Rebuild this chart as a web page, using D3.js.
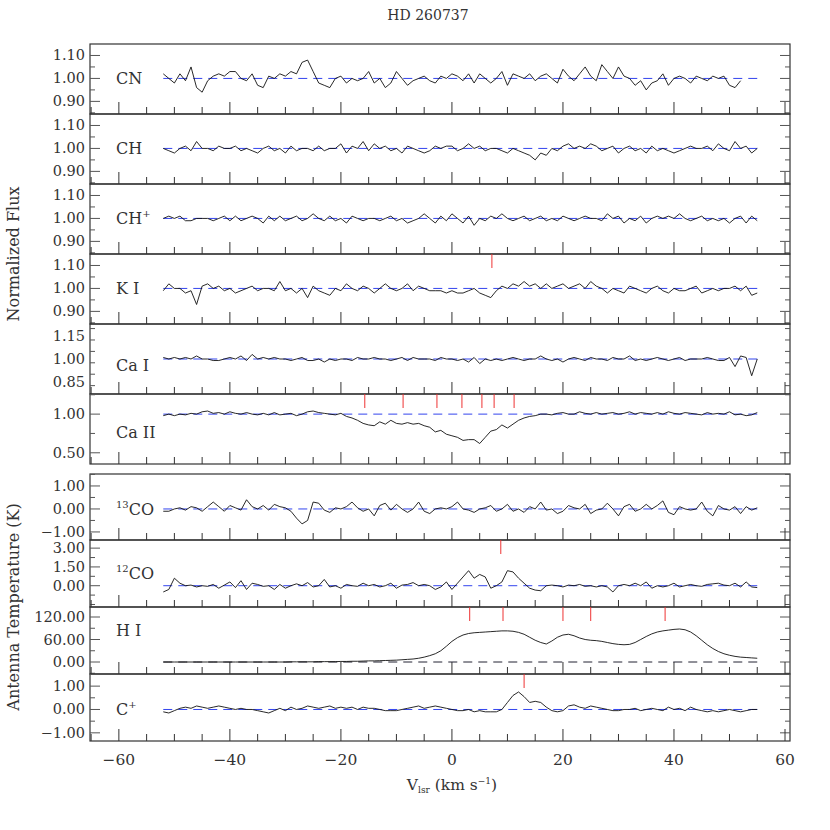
<!DOCTYPE html>
<html>
<head>
<meta charset="utf-8">
<script src="https://cdn.jsdelivr.net/npm/d3@7"></script>
<style>
body { margin: 0; background: #fff; }
text { font-family: "DejaVu Serif", "Liberation Serif", serif; fill: #333; }
</style>
</head>
<body>
<script>

// velocity grid: every series starts at -52 km/s, step 1 km/s
var vStart = -52, vStep = 1;

var cn = [1.02,1.00,0.98,1.02,0.99,1.05,0.96,0.94,0.99,1.01,
  1.02,1.01,1.03,1.03,1.00,0.99,1.02,0.97,0.96,1.01,
  1.00,1.02,1.01,1.03,1.02,1.07,1.08,1.03,0.98,0.97,
  0.96,1.00,1.01,0.98,1.00,0.99,1.00,1.03,0.98,1.00,
  0.96,0.98,1.03,1.00,0.97,0.99,1.00,1.01,0.99,0.98,
  1.01,1.00,1.02,1.01,0.99,1.02,0.98,1.02,1.00,0.98,
  1.00,1.03,0.97,1.02,1.01,1.00,1.02,0.99,1.01,1.02,
  1.00,0.98,1.04,1.01,0.99,1.02,1.05,1.01,0.99,1.06,
  1.03,1.00,1.05,1.01,1.00,0.97,0.99,0.95,0.98,0.99,
  1.02,0.97,1.00,1.01,1.00,0.98,1.01,1.00,0.99,1.01,
  1.00,1.01,0.97,0.96,0.99];
var ch = [1.00,0.99,0.98,1.00,1.01,0.99,1.03,1.00,1.00,0.99,
  1.01,1.00,1.00,1.01,0.99,1.00,0.99,0.98,1.00,1.01,
  0.99,1.00,0.98,1.01,0.99,1.00,1.00,0.99,1.01,0.99,
  1.00,1.00,1.02,0.98,1.01,1.00,1.03,0.99,1.02,1.00,
  1.01,0.99,1.00,0.98,1.01,1.00,0.99,0.98,0.99,1.01,
  1.00,1.01,1.01,0.99,1.00,1.02,1.00,1.01,0.99,1.00,
  1.00,0.99,0.98,1.00,0.99,0.98,0.97,0.95,0.98,0.97,
  1.00,0.99,1.01,1.02,1.00,1.01,1.00,1.02,1.01,0.99,
  1.00,1.01,0.98,1.00,1.01,0.99,1.00,0.98,1.01,0.99,
  1.00,0.99,0.98,0.99,1.00,1.01,1.00,1.00,1.01,0.99,
  1.02,1.00,0.99,1.03,1.00,1.01,0.98,1.00];
var chp = [1.00,1.01,1.00,1.01,0.99,0.99,1.00,1.00,1.00,0.99,
  1.00,1.01,0.99,1.01,0.99,1.00,1.01,1.00,0.98,1.01,
  0.99,1.01,0.99,1.00,1.01,0.99,1.00,1.02,1.00,0.99,
  1.01,0.99,1.00,0.98,1.01,1.00,0.99,1.00,1.00,0.99,
  1.00,1.01,0.99,1.00,0.98,0.99,1.00,1.02,1.00,0.98,
  1.01,0.99,1.02,1.00,0.98,1.01,0.97,1.00,0.99,1.01,
  1.00,1.02,1.00,0.99,1.00,1.01,0.99,1.00,1.01,0.99,
  1.00,0.99,1.01,1.00,0.99,1.00,1.01,1.00,1.00,0.99,
  1.02,1.00,1.01,0.98,1.00,0.99,1.01,0.98,1.00,1.01,
  1.00,1.01,1.00,1.02,1.00,0.99,1.00,1.01,0.99,1.00,
  0.99,1.00,0.98,1.00,1.01,0.98,1.01,0.99];
var ki = [0.99,1.02,1.00,1.00,0.98,0.99,0.93,1.01,1.02,1.00,
  1.01,0.99,1.00,0.98,0.99,1.00,1.01,0.99,1.00,1.00,
  0.99,1.03,0.99,1.00,0.98,1.00,0.96,1.01,0.99,0.98,
  0.97,1.00,0.99,1.02,1.00,0.99,1.01,1.00,0.98,1.00,
  1.02,1.00,0.99,1.00,1.02,0.99,1.01,1.00,0.99,0.99,
  0.99,0.98,0.99,0.98,0.98,0.99,1.00,0.98,0.97,0.96,
  0.99,1.01,1.00,1.02,1.01,1.03,1.01,1.02,1.00,1.02,
  1.00,1.01,1.02,1.00,1.01,1.02,1.00,1.03,1.01,1.00,
  0.98,1.00,0.99,0.98,1.01,1.00,0.99,0.98,1.00,1.01,
  0.99,0.98,1.00,0.99,0.99,1.00,1.01,0.98,0.99,1.00,
  0.99,1.00,1.00,1.01,0.99,1.01,0.97,0.98];
var cai = [1.01,1.00,1.01,1.00,1.01,1.00,1.02,1.00,1.00,0.99,
  0.99,1.00,1.01,1.00,1.02,0.99,1.03,1.00,1.01,1.00,
  1.01,1.00,1.00,0.99,1.00,1.01,0.99,0.99,1.00,0.98,
  1.00,0.99,1.00,1.00,0.99,1.01,1.00,1.00,1.01,1.00,
  1.00,0.99,1.00,1.01,0.99,1.01,1.00,1.00,1.00,0.99,
  1.01,1.00,1.00,0.99,1.00,0.98,1.01,0.97,1.00,0.99,
  1.00,0.99,1.00,1.01,1.00,0.99,1.00,1.00,1.02,1.00,
  0.99,1.00,0.98,1.00,1.01,1.00,0.99,1.01,1.00,1.00,
  0.99,1.01,1.00,1.00,1.02,0.99,1.00,0.99,1.00,1.01,
  1.00,0.99,1.00,1.01,0.99,1.00,1.00,1.00,1.01,1.00,
  0.99,0.99,1.01,0.95,1.02,1.01,0.89,1.00];
var caii = [0.98,1.00,0.98,1.00,0.99,1.01,1.00,1.03,1.04,1.01,
  1.02,1.00,1.03,1.01,1.00,1.02,1.00,0.99,1.01,0.99,
  1.02,0.99,1.00,1.01,0.98,1.00,1.03,1.04,1.02,1.01,
  1.00,0.99,1.01,0.97,0.95,0.92,0.88,0.86,0.85,0.90,
  0.87,0.92,0.88,0.87,0.89,0.87,0.88,0.85,0.83,0.77,
  0.79,0.74,0.72,0.70,0.66,0.67,0.67,0.62,0.70,0.78,
  0.80,0.86,0.82,0.87,0.92,0.95,0.97,0.98,1.00,1.00,
  0.99,1.01,1.02,1.00,1.00,1.03,1.01,1.00,1.02,1.00,
  1.01,1.02,1.00,1.01,1.03,1.00,1.02,1.01,1.00,1.02,
  1.00,1.03,1.01,1.00,1.02,1.01,1.00,0.99,1.02,1.00,
  1.01,1.00,1.03,0.99,1.00,0.98,0.99,1.02];
var co13 = [-0.1,-0.1,0.0,0.05,-0.05,0.1,0.05,-0.1,0.1,0.3,
  0.1,-0.1,0.15,0.05,-0.05,0.4,0.1,0.0,0.15,-0.05,
  0.2,0.1,0.05,-0.1,-0.4,-0.65,-0.5,0.3,0.25,-0.05,
  -0.15,0.05,0.0,0.1,0.3,0.05,-0.1,0.0,-0.3,0.15,
  0.25,-0.05,0.2,0.0,-0.15,0.0,0.3,-0.1,-0.2,0.0,
  0.05,0.0,0.1,0.3,0.0,-0.05,-0.15,0.0,0.05,0.15,
  -0.1,0.0,0.2,-0.1,0.0,-0.15,0.1,0.0,0.3,-0.05,
  0.0,-0.2,-0.1,0.15,0.05,0.0,0.2,-0.2,-0.05,0.0,
  0.25,0.0,-0.3,0.1,0.2,-0.1,0.0,0.2,0.0,0.15,
  0.35,-0.15,-0.25,0.1,0.0,-0.05,0.0,0.3,-0.1,-0.3,
  0.15,0.0,-0.05,0.1,-0.2,0.1,-0.05,0.05];
var co12 = [-0.5,-0.3,0.6,0.2,0.0,0.05,-0.1,0.0,-0.05,0.1,
  -0.2,0.05,0.3,-0.15,0.4,-0.3,0.2,0.1,-0.05,0.0,
  -0.3,0.1,-0.2,0.0,0.15,0.0,0.25,-0.1,0.0,0.5,
  -0.1,0.0,-0.2,0.1,0.0,-0.05,0.2,0.0,0.1,-0.1,
  0.0,0.2,-0.2,0.05,0.1,0.25,0.0,0.1,0.0,-0.3,
  -0.1,0.3,-0.3,0.2,0.7,1.2,0.6,0.9,0.7,-0.2,
  0.0,0.3,1.2,1.1,0.6,0.2,-0.2,-0.35,-0.4,0.0,
  0.05,0.0,-0.1,0.05,0.0,0.1,-0.05,0.0,-0.1,0.0,
  -0.1,-0.5,0.0,0.1,0.0,0.2,0.0,0.3,-0.2,0.0,
  -0.1,0.0,0.2,-0.1,0.0,0.1,0.0,-0.05,0.1,0.15,
  0.2,0.05,0.0,0.2,-0.1,0.3,-0.1,-0.15];
var hi = [0,0,0,0,0,0,0,0,0,0,
  0,0,0,0,0,0,0,0,0,0,
  0,0,0,0.5,0.5,0.5,0.5,0.5,1,1,
  1,1,1.5,1.5,2,2,2.5,3,3,3.5,
  4,4.5,5,6,7,8,10,13,17,22,
  30,42,55,65,72,76,78,79,80,81,
  82,83,83,82,79,74,66,58,52,48,
  56,66,72,74,70,64,60,58,57,55,
  52,49,47,46,47,52,60,68,75,80,
  83,85,87,88,86,80,70,58,46,36,
  28,22,18,15,13,12,11,10];
var cplus = [-0.1,-0.15,-0.05,0.05,0.1,0.05,0.15,0.1,0.05,0.1,
  0.15,0.1,0.05,0.0,0.05,0.0,0.0,-0.05,-0.1,-0.15,
  -0.05,0.05,-0.05,0.1,0.0,0.05,0.15,0.1,0.05,0.1,
  0.15,0.05,0.1,0.05,0.1,0.0,0.1,0.05,0.05,0.0,
  -0.05,-0.05,-0.05,0.0,0.05,0.1,0.15,0.05,0.1,0.15,
  0.1,0.05,0.0,-0.05,-0.05,0.0,-0.1,-0.05,-0.1,-0.1,
  -0.1,0.0,0.3,0.6,0.75,0.55,0.3,0.35,0.3,0.1,
  -0.05,-0.1,-0.05,0.15,0.2,0.1,0.05,0.15,0.1,0.05,
  0.0,-0.05,-0.05,0.0,0.0,0.05,-0.05,0.0,0.05,0.0,
  -0.05,0.1,0.0,0.05,-0.05,0.1,0.0,-0.05,-0.1,-0.05,
  -0.1,-0.05,0.0,-0.05,-0.1,-0.05,0.0,0.0];

// component velocity markers (red)
var kiMarks = [7.2];
var caiiMarks = [-15.7, -8.8, -2.7, 1.8, 5.4, 7.6, 11.2];
var co12Marks = [8.8];
var hiMarks = [3.2, 9.2, 20.0, 25.0, 38.4];
var cplusMarks = [13.0];

var xTicks = [-60, -40, -20, 0, 20, 40, 60];

// panels: name, superscript, data, y domain, labelled ticks, minor tick step, baseline, label level, markers
var panels = [
  {name:"CN", sup:"", post:"", data:cn, dom:[0.845,1.15], ticks:[0.9,1.0,1.1], minor:0.05, base:1, lab:1, marks:[]},
  {name:"CH", sup:"", post:"", data:ch, dom:[0.845,1.15], ticks:[0.9,1.0,1.1], minor:0.05, base:1, lab:1, marks:[]},
  {name:"CH", sup:"", post:"+", data:chp, dom:[0.845,1.15], ticks:[0.9,1.0,1.1], minor:0.05, base:1, lab:1, marks:[]},
  {name:"K I", sup:"", post:"", data:ki, dom:[0.845,1.15], ticks:[0.9,1.0,1.1], minor:0.05, base:1, lab:1, marks:kiMarks},
  {name:"Ca I", sup:"", post:"", data:cai, dom:[0.77,1.23], ticks:[0.85,1.0,1.15], minor:0.075, base:1, lab:0.96, marks:[]},
  {name:"Ca II", sup:"", post:"", data:caii, dom:[0.355,1.26], ticks:[0.5,1.0], minor:0.25, base:1, lab:0.77, marks:caiiMarks},
  {name:"CO", sup:"13", post:"", data:co13, dom:[-1.35,1.52], ticks:[-1,0,1], minor:0.5, base:0, lab:0, marks:[]},
  {name:"CO", sup:"12", post:"", data:co12, dom:[-1.7,3.65], ticks:[0,1.5,3], minor:0.75, base:0, lab:1.0, marks:co12Marks},
  {name:"H I", sup:"", post:"", data:hi, dom:[-32,146.7], ticks:[0,60,120], minor:30, base:0, lab:85, marks:hiMarks},
  {name:"C", sup:"", post:"+", data:cplus, dom:[-1.35,1.52], ticks:[-1,0,1], minor:0.5, base:0, lab:0, marks:cplusMarks}
];
var tops = [44,114,184,254,324,394, 474,540,607,674];
var bots = [114,184,254,324,394,464, 540,607,674,741];

var W = 830, H = 830, L = 90, R = 790;
var svg = d3.select("body").append("svg").attr("width", W).attr("height", H);

var x = d3.scaleLinear().domain([-65.2, 60.9]).range([L, R]);

panels.forEach(function(p, i) {
  var y = d3.scaleLinear().domain(p.dom).range([bots[i], tops[i]]);
  var g = svg.append("g");

  g.append("rect").attr("x", L).attr("y", tops[i]).attr("width", R - L)
    .attr("height", bots[i] - tops[i]).attr("fill", "none").attr("stroke", "#333").attr("stroke-width", 1.2);

  // y ticks, left and right, inward
  var minors = d3.range(Math.ceil(p.dom[0] / p.minor) * p.minor, p.dom[1], p.minor);
  minors.forEach(function(v) {
    var major = p.ticks.some(function(t) { return Math.abs(t - v) < 1e-6; });
    var len = major ? 10 : 5;
    g.append("line").attr("x1", L).attr("x2", L + len).attr("y1", y(v)).attr("y2", y(v)).attr("stroke", "#555");
    g.append("line").attr("x1", R - len).attr("x2", R).attr("y1", y(v)).attr("y2", y(v)).attr("stroke", "#555");
  });
  p.ticks.forEach(function(t) {
    g.append("text").attr("x", 85).attr("y", y(t) + 5).attr("text-anchor", "end")
      .attr("font-size", 14.5).text(d3.format(".2f")(t));
  });

  // x ticks at panel bottom
  d3.range(-65, 61, 5).forEach(function(v) {
    var len = (v % 20 === 0) ? 12 : 7;
    g.append("line").attr("x1", x(v)).attr("x2", x(v)).attr("y1", bots[i]).attr("y2", bots[i] - len).attr("stroke", "#333");
  });

  // baseline
  g.append("line").attr("x1", x(-52)).attr("x2", x(55)).attr("y1", y(p.base)).attr("y2", y(p.base))
    .attr("stroke", p.name === "H I" ? "#223" : "#3344ee").attr("stroke-dasharray", "9,6").attr("stroke-width", 1);

  // spectrum
  var line = d3.line().x(function(d, k) { return x(vStart + k * vStep); }).y(function(d) { return y(d); });
  g.append("path").datum(p.data).attr("d", line).attr("fill", "none").attr("stroke", "#111").attr("stroke-width", 0.9);

  // markers
  p.marks.forEach(function(m) {
    g.append("line").attr("x1", x(m)).attr("x2", x(m)).attr("y1", tops[i]).attr("y2", tops[i] + 14)
      .attr("stroke", "#e33").attr("stroke-width", 1);
  });

  // species label
  var t = g.append("text").attr("x", 116).attr("y", y(p.lab) + 6).attr("font-size", 16);
  if (p.sup) t.append("tspan").attr("font-size", 10).attr("dy", -7).text(p.sup);
  t.append("tspan").attr("dy", p.sup ? 7 : 0).text(p.name);
  if (p.post) t.append("tspan").attr("font-size", 10).attr("dy", -7).text(p.post);
});

// bottom axis labels
xTicks.forEach(function(v) {
  svg.append("text").attr("x", x(v)).attr("y", 765).attr("text-anchor", "middle").attr("font-size", 15.5)
    .text(v < 0 ? "\u2212" + Math.abs(v) : v);
});

var xl = svg.append("text").attr("x", 452).attr("y", 790).attr("text-anchor", "middle").attr("font-size", 15.5);
xl.append("tspan").text("V");
xl.append("tspan").attr("font-size", 9).attr("dy", 3).text("lsr");
xl.append("tspan").attr("dy", -3).text(" (km s");
xl.append("tspan").attr("font-size", 9).attr("dy", -6).text("\u22121");
xl.append("tspan").attr("dy", 6).text(")");

svg.append("text").attr("transform", "translate(19,254) rotate(-90)").attr("text-anchor", "middle")
  .attr("font-size", 16).text("Normalized Flux");
svg.append("text").attr("transform", "translate(19,607) rotate(-90)").attr("text-anchor", "middle")
  .attr("font-size", 16).text("Antenna Temperature (K)");

svg.append("text").attr("x", 428).attr("y", 20).attr("text-anchor", "middle").attr("font-size", 14).text("HD 260737");

</script>
</body>
</html>
